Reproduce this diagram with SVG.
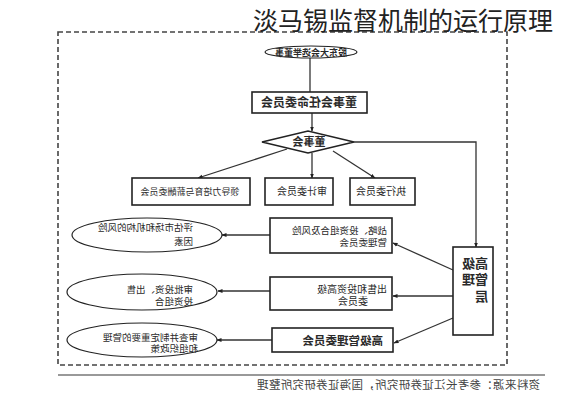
<svg xmlns="http://www.w3.org/2000/svg" width="565" height="400" viewBox="0 0 565 400">
<defs>
<marker id="ah" viewBox="0 0 10 10" refX="9" refY="5" markerWidth="5" markerHeight="5" orient="auto-start-reverse" markerUnits="userSpaceOnUse">
<path d="M0,1 L10,5 L0,9 z" fill="#222"/>
</marker>
<style>
text{font-family:"Liberation Sans","Noto Sans CJK SC",sans-serif;fill:#2a2a2a}
.box{fill:#fff;stroke:#222;stroke-width:1.6}
.ell{fill:#fff;stroke:#222;stroke-width:1.2}
.con{fill:none;stroke:#333;stroke-width:1.3}
.arr{marker-end:url(#ah)}
.s9{font-size:9.5px}
.s10{font-size:10px}
.b{font-weight:bold}
</style>
</defs>
<rect width="565" height="400" fill="#fff"/>
<rect x="58" y="32" width="449" height="333" fill="none" stroke="#444" stroke-width="1.6" stroke-dasharray="5 3"/>
<line x1="58" y1="375" x2="545" y2="375" stroke="#777" stroke-width="1.5"/>
<text x="253" y="30" font-size="25" style="fill:#222">淡马锡监督机制的运行原理</text>

<g id="connectors">
<line class="con" x1="310" y1="58" x2="310" y2="92"/>
<line class="con arr" x1="312" y1="113" x2="312" y2="131"/>
<line class="con arr" x1="287" y1="149" x2="198" y2="178"/>
<line class="con arr" x1="312" y1="153" x2="312" y2="178"/>
<line class="con arr" x1="333" y1="151" x2="375" y2="178"/>
<polyline class="con arr" points="354,142 476,142 476,247"/>
<line class="con arr" x1="453" y1="270" x2="393" y2="243"/>
<line class="con arr" x1="453" y1="296" x2="393" y2="296"/>
<line class="con arr" x1="453" y1="318" x2="394" y2="343"/>
<line class="con arr" x1="270" y1="235" x2="222" y2="235"/>
<line class="con arr" x1="270" y1="291" x2="218" y2="291"/>
<line class="con arr" x1="272" y1="340" x2="217" y2="340"/>
</g>

<g id="n-gudong">
<ellipse class="ell" cx="311" cy="52" rx="46" ry="6"/>
<text class="b" font-size="9" text-anchor="middle" transform="translate(311,55.5) scale(-1,1)">股东大会选举董事</text>
</g>
<g id="n-renming">
<rect class="box" x="252" y="92" width="115" height="21" stroke-width="2"/>
<text class="b" font-size="12" text-anchor="middle" transform="translate(309,107) scale(-1,1)">董事会任命委员会</text>
</g>
<g id="n-dongshihui">
<polygon class="box" points="262,142 308,131 354,142 308,153"/>
<text class="b" font-size="11" text-anchor="middle" transform="translate(309,146) scale(-1,1)">董事会</text>
</g>
<g id="n-xinchou">
<rect class="box" x="132" y="178" width="118" height="27"/>
<text font-size="9" text-anchor="middle" transform="translate(190,195) scale(-1,1)">领导力培育与薪酬委员会</text>
</g>
<g id="n-shenji">
<rect class="box" x="265" y="178" width="68" height="27"/>
<text class="s10" text-anchor="middle" transform="translate(302,195) scale(-1,1)">审计委员会</text>
</g>
<g id="n-zhixing">
<rect class="box" x="350" y="178" width="65" height="27"/>
<text class="s10" text-anchor="middle" transform="translate(381,195) scale(-1,1)">执行委员会</text>
</g>
<g id="n-gaoguan">
<rect class="box" x="453" y="247" width="40" height="88"/>
<text class="b" font-size="13" transform="translate(488,268) scale(-1,1)">高级</text>
<text class="b" font-size="13" transform="translate(488,284) scale(-1,1)">管理</text>
<text class="b" font-size="13" transform="translate(488,301) scale(-1,1)">层</text>
</g>
<g id="n-zhanlue">
<rect class="box" x="270" y="218" width="122" height="35"/>
<text class="s9" transform="translate(387,234) scale(-1,1)">战略、投资组合及风险</text>
<text class="s9" transform="translate(387,246) scale(-1,1)">管理委员会</text>
</g>
<g id="n-touzi">
<rect class="box" x="270" y="277" width="122" height="33"/>
<text class="s10" transform="translate(387,293) scale(-1,1)">出售和投资高级</text>
<text class="s10" transform="translate(368,305) scale(-1,1)">委员会</text>
</g>
<g id="n-guanli">
<rect class="box" x="272" y="328" width="121" height="24"/>
<text class="b" font-size="11.5" transform="translate(383,345) scale(-1,1)">高级管理委员会</text>
</g>
<g id="n-e1">
<ellipse class="ell" cx="147" cy="235" rx="75" ry="17"/>
<text class="s9" transform="translate(193,231) scale(-1,1)">评估市场和机构的风险</text>
<text class="s9" transform="translate(193,245) scale(-1,1)">因素</text>
</g>
<g id="n-e2">
<ellipse class="ell" cx="142" cy="292" rx="75" ry="18"/>
<text class="s9" transform="translate(193,293) scale(-1,1)">审批投资、出售</text>
<text class="s9" transform="translate(193,305) scale(-1,1)">投资组合</text>
</g>
<g id="n-e3">
<ellipse class="ell" cx="142" cy="340" rx="75" ry="17"/>
<text class="s9" transform="translate(198,340.5) scale(-1,1)">审查并制定重要的管理</text>
<text class="s9" transform="translate(198,352) scale(-1,1)">和组织政策</text>
</g>
<text font-size="11.5" letter-spacing="0.3" transform="translate(540,389) scale(-1,1)" style="fill:#444">资料来源：参考长江证券研究所，国海证券研究所整理</text>
</svg>
